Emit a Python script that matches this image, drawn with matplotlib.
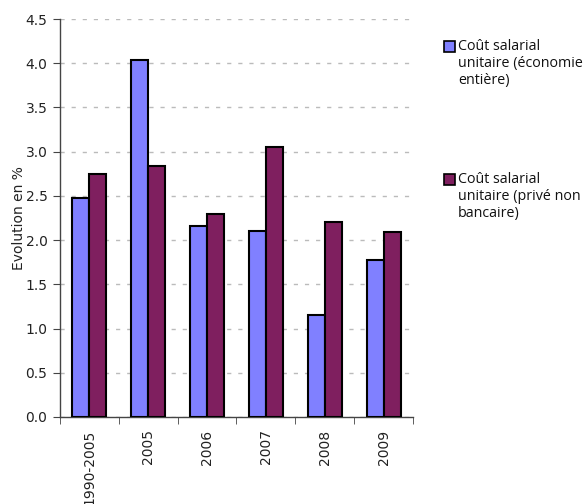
import matplotlib
matplotlib.use("Agg")
import matplotlib.pyplot as plt
from matplotlib.patches import Rectangle
import numpy as np

categories = ["1990-2005", "2005", "2006", "2007", "2008", "2009"]
economie_entiere = [2.48, 4.04, 2.16, 2.10, 1.15, 1.78]
prive_non_bancaire = [2.75, 2.84, 2.29, 3.05, 2.20, 2.09]
series_labels = ["Coût salarial\nunitaire (économie\nentière)",
                 "Coût salarial\nunitaire (privé non\nbancaire)"]
colors = ["#8080FF", "#7F1F5F"]

W, H = 586, 504
fig = plt.figure(figsize=(W / 100, H / 100), dpi=100)
ax = fig.add_axes([60 / W, (H - 417) / H, (413 - 60) / W, (417 - 19) / H])

x = np.arange(len(categories))
bw = 0.29
ax.bar(x - bw / 2, economie_entiere, bw, color=colors[0], edgecolor="black",
       linewidth=1.5, zorder=3)
ax.bar(x + bw / 2, prive_non_bancaire, bw, color=colors[1], edgecolor="black",
       linewidth=1.5, zorder=3)

ax.set_xlim(-0.5, len(categories) - 0.5)
ax.set_ylim(0, 4.5)
ax.set_yticks(np.arange(0, 4.51, 0.5))
ax.set_yticklabels([f"{v:.1f}" for v in np.arange(0, 4.51, 0.5)], fontsize=10,
                   color="#222222")
ax.yaxis.grid(True, linestyle=(0, (3, 5)), color="#BBBBBB", linewidth=1, zorder=0)
ax.set_axisbelow(True)

ax.set_xticks(x)
ax.set_xticklabels(categories, rotation=90, fontsize=10, color="#222222")
ax.tick_params(axis="x", length=0, pad=9)
ax.set_xticks(np.arange(-0.5, len(categories), 1), minor=True)
ax.tick_params(axis="x", which="minor", length=5, color="#444444")
ax.tick_params(axis="y", length=5, color="#444444", pad=4)

for s in ["top", "right"]:
    ax.spines[s].set_visible(False)
for s in ["left", "bottom"]:
    ax.spines[s].set_color("#444444")
    ax.spines[s].set_linewidth(1.0)

ax.set_ylabel("Evolution en %", fontsize=10, color="#222222")
ax.yaxis.set_label_coords(-34 / 353, 0.5)

# Legend drawn beside the plot area
legend_tops = [47, 180]
for lbl, col, top in zip(series_labels, colors, legend_tops):
    fig.patches.append(Rectangle((444 / W, 1 - (top + 5) / H), 11 / W, 11 / H,
                                 transform=fig.transFigure, facecolor=col,
                                 edgecolor="black", linewidth=1.2))
    fig.text(458 / W, 1 - (top - 8) / H, lbl, fontsize=10.3, va="top", ha="left",
             family="Open Sans", color="#111111", linespacing=1.2)

fig.savefig("out.png", dpi=100)
